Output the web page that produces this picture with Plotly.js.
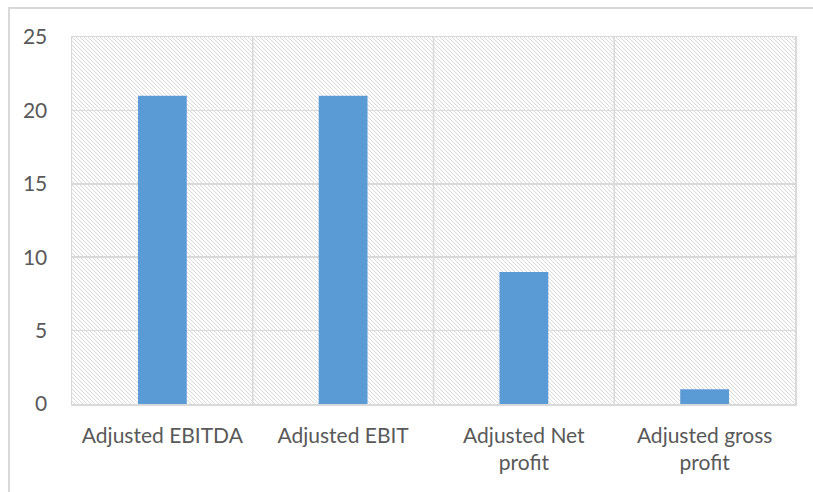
<!DOCTYPE html>
<html>
<head>
<meta charset="utf-8">
<script src="https://cdn.plot.ly/plotly-3.0.1.min.js"></script>
<style>
  html, body { margin: 0; padding: 0; background: #ffffff; }
  #wrap { position: relative; width: 813px; height: 492px; overflow: hidden; }
  #chart { position: absolute; left: 0; top: 0; width: 813px; height: 492px; }
  #frame { position: absolute; left: 8px; top: 7px; width: 900px; height: 600px;
           border-left: 2px solid #d9d9d9; border-top: 2px solid #d9d9d9; pointer-events: none; }
</style>
</head>
<body>
<div id="wrap">
  <div id="chart"></div>
  <div id="frame"></div>
</div>
<script>
const categories = ["Adjusted EBITDA", "Adjusted EBIT", "Adjusted Net<br>profit", "Adjusted gross<br>profit"];
const values = [21, 21, 9, 1];
const yTicks = [0, 5, 10, 15, 20, 25];

const W = 813, H = 492;
const margin = {l: 72, r: 18, t: 37, b: 88};
const pw = W - margin.l - margin.r, ph = H - margin.t - margin.b;

const svg = '<svg xmlns="http://www.w3.org/2000/svg" width="' + pw + '" height="' + ph + '" viewBox="0 0 ' + pw + ' ' + ph + '">' +
  '<defs><pattern id="p" patternUnits="userSpaceOnUse" width="4" height="4">' +
  '<path d="M-1,-1 L5,5 M-1,3 L1,5 M3,-1 L5,1" stroke="#d9d9d9" stroke-width="1"/></pattern></defs>' +
  '<rect width="100%" height="100%" fill="#ffffff"/><rect width="100%" height="100%" fill="url(#p)"/></svg>';
const bgImg = 'data:image/svg+xml;base64,' + btoa(svg);

const font = {family: "Lato, 'Open Sans', sans-serif", size: 21, color: "#595959"};

Plotly.newPlot("chart", [{
  type: "bar",
  x: categories,
  y: values,
  width: 0.27,
  marker: {color: "#5B9BD5", line: {width: 0}},
  hoverinfo: "none"
}], {
  width: W, height: H,
  margin: margin,
  paper_bgcolor: "#ffffff",
  plot_bgcolor: "rgba(0,0,0,0)",
  showlegend: false,
  font: font,
  images: [{
    source: bgImg, xref: "paper", yref: "paper", x: 0, y: 1, sizex: 1, sizey: 1,
    xanchor: "left", yanchor: "top", sizing: "stretch", layer: "below"
  }],
  xaxis: {
    type: "category",
    range: [-0.5, 3.5],
    showgrid: false,
    showline: true, linecolor: "#d9d9d9", linewidth: 1.5, mirror: true,
    ticks: "", tickfont: font,
    ticklabelstandoff: 12,
    zeroline: false
  },
  yaxis: {
    range: [0, 25],
    tickvals: yTicks,
    ticktext: yTicks.map(String),
    showgrid: true, gridcolor: "#d9d9d9", gridwidth: 1.5,
    showline: true, linecolor: "#d9d9d9", linewidth: 1.5, mirror: true,
    zeroline: false,
    ticks: "", tickfont: font,
    ticklabelstandoff: 19
  },
  shapes: [1, 2, 3].map(i => ({
    type: "line", xref: "x", yref: "paper", x0: i - 0.5, x1: i - 0.5, y0: 0, y1: 1,
    line: {color: "#d9d9d9", width: 1.5}, layer: "below"
  }))
}, {staticPlot: true});
</script>
</body>
</html>
